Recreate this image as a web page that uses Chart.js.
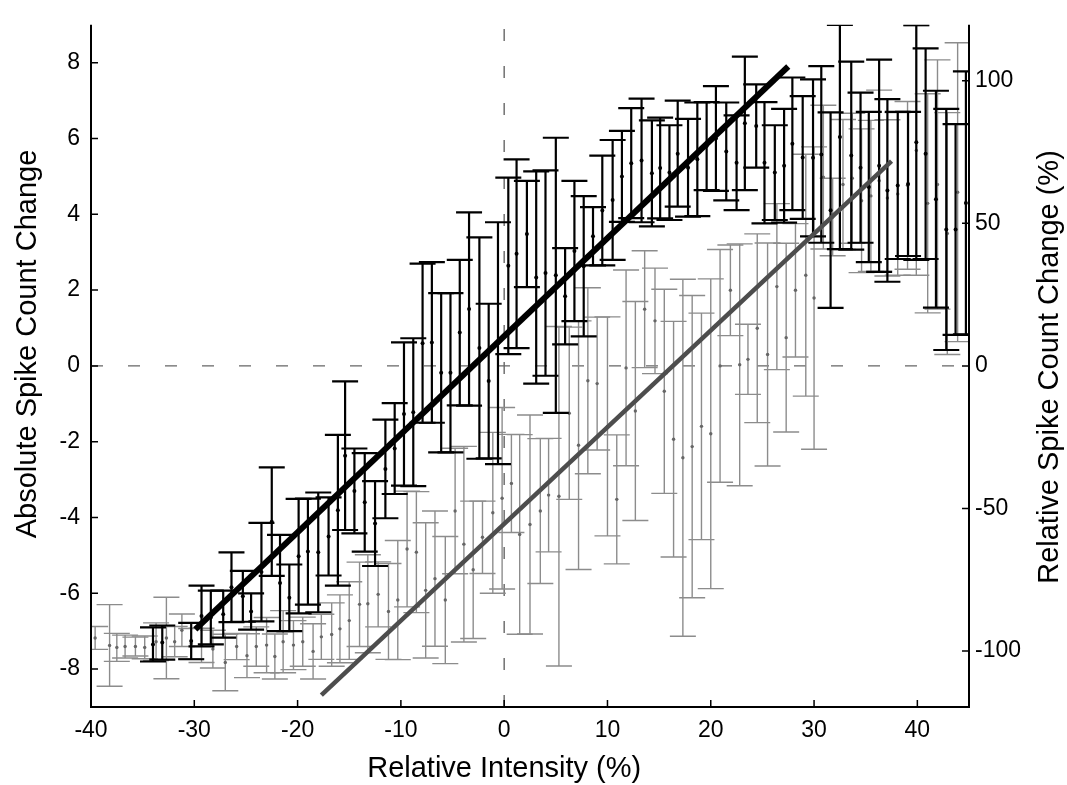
<!DOCTYPE html>
<html>
<head>
<meta charset="utf-8">
<script src="https://cdn.jsdelivr.net/npm/chart.js@4.4.0/dist/chart.umd.min.js"></script>
<style>
html,body{margin:0;padding:0;background:#fff;}
#wrap{width:1067px;height:785px;position:relative;}
</style>
</head>
<body>
<div id="wrap"><canvas id="c"></canvas></div>
<script>
// ---------- data ----------
const xTicks = [-40, -30, -20, -10, 0, 10, 20, 30, 40];
const leftTicks = [-8, -6, -4, -2, 0, 2, 4, 6, 8];
const rightTicks = [-100, -50, 0, 50, 100];
const xRange = [-40, 45];
const leftRange = [-9, 9];
const rightRange = [-119.6, 119.6];

const xTitle = 'Relative Intensity (%)';
const leftTitle = 'Absolute Spike Count Change';
const rightTitle = 'Relative Spike Count Change (%)';

// absolute spike count change (black, left axis): mean and error half-width
const absX = [-34.0, -33.1, -30.3, -29.3, -28.4, -27.2, -26.4, -25.3, -24.5, -23.5,
  -22.5, -21.7, -20.8, -19.9, -19.0, -18.0, -17.0, -16.1, -15.4, -14.5,
  -13.5, -12.5, -11.5, -10.6, -9.7, -8.8, -7.9, -7.0, -6.1, -5.2,
  -4.3, -3.4, -2.4, -1.5, -0.6, 0.4, 1.2, 2.2, 3.1, 4.0,
  5.0, 5.9, 6.8, 7.7, 8.6, 9.5, 10.5, 11.4, 12.3, 13.3,
  14.3, 15.1, 16.0, 16.8, 17.8, 18.7, 19.6, 20.5, 21.5, 22.5,
  23.3, 24.4, 25.2, 26.2, 27.1, 27.9, 28.9, 29.9, 30.7, 31.6,
  32.5, 33.6, 34.5, 35.3, 36.3, 37.1, 38.1, 39.1, 39.9, 40.8,
  41.8, 42.8, 43.7, 44.7];
const absMean = [-7.35, -7.3, -7.26, -6.6, -6.64, -6.55, -5.84, -6.08, -6.48, -5.44,
  -4.11, -5.73, -6.12, -5.02, -4.9, -4.92, -4.5, -3.81, -2.37, -3.3,
  -3.6, -4.16, -2.72, -2.18, -1.27, -1.22, 0.6, 0.62, -0.18, -0.18,
  0.88, 1.5, 0.47, -0.4, 0.6, 2.64, 2.96, 3.48, 2.33, 2.45,
  2.39, 1.84, 3.03, 2.63, 3.42, 4.1, 4.38, 5.0, 5.35, 5.42,
  5.08, 5.22, 5.1, 5.6, 5.23, 5.45, 5.8, 6.0, 5.66, 5.36,
  6.4, 6.33, 5.36, 5.1, 5.28, 5.86, 5.5, 5.49, 5.58, 4.11,
  6.04, 5.55, 5.23, 4.72, 5.28, 4.63, 4.76, 4.8, 5.9, 5.6,
  4.4, 3.6, 3.6, 4.3];
const absErr = [0.45, 0.45, 0.48, 0.8, 0.71, 0.62, 0.92, 0.67, 0.48, 1.3,
  1.43, 1.27, 0.88, 1.51, 1.4, 1.58, 1.03, 1.99, 1.96, 1.12,
  1.3, 1.12, 1.3, 1.2, 1.89, 1.95, 2.1, 2.12, 2.1, 2.1,
  1.92, 2.55, 2.92, 2.04, 3.19, 2.33, 2.49, 1.4, 2.8, 2.71,
  3.63, 1.27, 1.85, 1.85, 0.77, 1.45, 1.58, 1.2, 1.45, 1.63,
  1.4, 1.33, 1.25, 1.4, 1.29, 1.5, 1.16, 1.38, 1.29, 1.25,
  1.76, 1.1, 1.6, 1.25, 1.5, 1.75, 1.62, 2.07, 2.33, 2.58,
  2.96, 2.48, 1.98, 1.98, 2.8, 2.41, 1.94, 1.9, 3.1, 2.78,
  2.86, 3.18, 2.78, 3.47];

// relative spike count change (grey, right axis, %): mean and error half-width
const relX = [-39.6, -38.2, -37.5, -36.7, -35.7, -34.8, -33.7, -32.7, -31.9, -31.2,
  -30.3, -29.3, -28.2, -27.0, -25.9, -24.9, -24.0, -23.0, -22.2, -21.4,
  -20.4, -19.5, -18.5, -17.7, -16.7, -15.9, -15.0, -14.0, -13.2, -12.2,
  -11.2, -10.3, -9.4, -8.5, -7.6, -6.7, -5.7, -4.75, -3.9, -3.0,
  -2.1, -1.1, -0.2, 0.7, 1.5, 2.5, 3.5, 4.3, 5.3, 6.3,
  7.2, 8.1, 9.0, 10.0, 10.9, 11.8, 12.7, 13.6, 14.6, 15.5,
  16.4, 17.3, 18.2, 19.1, 20.0, 20.9, 21.9, 22.8, 23.6, 24.5,
  25.5, 26.4, 27.3, 28.2, 29.2, 30.0, 30.9, 31.8, 32.8, 33.7,
  34.6, 35.5, 36.3, 37.1, 38.1, 39.05, 39.9, 41.0, 41.95, 42.9,
  43.9];
const relMean = [-95.4, -98.0, -98.7, -98.4, -98.4, -98.7, -96.7, -95.4, -96.7, -92.7,
  -97.4, -98.0, -99.3, -104.0, -98.4, -101.6, -98.4, -97.9, -101.9, -96.7,
  -97.9, -96.7, -100.1, -95.0, -94.2, -92.2, -89.3, -83.6, -83.4, -80.1,
  -86.1, -82.1, -64.2, -65.3, -78.7, -74.6, -82.1, -50.9, -62.5, -71.5,
  -60.1, -51.5, -46.4, -41.2, -59.1, -55.6, -50.9, -45.3, -45.7, -16.6,
  -27.8, -5.2, -6.2, -21.2, -46.8, -0.7, -15.8, 19.9, 15.8, -8.9,
  -25.7, -32.2, -28.3, -21.2, -23.8, 0.0, 26.5, 0.4, 2.3, 13.2,
  4.0, 27.8, 9.9, 26.5, 31.8, 23.8, 66.2, 52.2, 63.6, 65.8,
  57.9, 59.6, 64.9, 58.9, 60.3, 63.3, 75.5, 57.0, 63.6, 46.4,
  60.9];
const relErr = [4.0, 14.3, 4.9, 4.0, 3.3, 4.0, 6.6, 14.3, 5.3, 5.7,
  5.3, 6.0, 6.6, 9.9, 4.6, 7.7, 6.9, 9.7, 7.9, 10.9,
  8.6, 8.6, 9.7, 7.9, 11.1, 11.9, 13.6, 14.8, 17.2, 11.4,
  16.8, 20.9, 20.3, 21.2, 23.7, 23.7, 22.3, 22.0, 34.3, 24.1,
  12.7, 28.2, 31.8, 17.2, 35.0, 38.4, 25.4, 19.9, 59.5, 30.2,
  43.6, 32.6, 23.3, 38.4, 22.6, 34.3, 38.4, 20.5, 18.5, 35.8,
  41.3, 62.6, 53.0, 39.7, 54.3, 40.8, 15.9, 42.4, 12.3, 33.1,
  39.1, 29.1, 33.1, 23.4, 42.4, 53.0, 25.2, 13.6, 22.8, 22.8,
  25.2, 26.5, 31.8, 27.4, 28.5, 29.4, 43.7, 38.4, 43.7, 42.4,
  52.4];

// regression lines
const absFitX = [-29.9, 27.5];
const absFitY = [-6.95, 7.9];
const relFitX = [-17.7, 37.5];
const relFitY = [-115.4, 71.8];

// ---------- chart ----------
const FONT = '"Liberation Sans", Arial, Helvetica, sans-serif';
const pts = (xs, ys) => xs.map((x, i) => ({x: x, y: ys[i]}));

const errorBarPlugin = {
  id: 'errorBars',
  beforeDatasetDraw(chart, args) {
    const ds = chart.data.datasets[args.index];
    if (!ds.errors) return;
    const ctx = chart.ctx, xs = chart.scales.x, ys = chart.scales[ds.yAxisID];
    const a = chart.chartArea;
    const cap = ds.capHalf;
    ctx.save();
    ctx.beginPath();
    ctx.rect(a.left, a.top, a.right - a.left, a.bottom - a.top);
    ctx.clip();
    ctx.strokeStyle = ds.errorColor;
    ctx.lineWidth = ds.errorWidth;
    ds.data.forEach((p, i) => {
      const e = ds.errors[i];
      const px = xs.getPixelForValue(p.x);
      const yt = ys.getPixelForValue(p.y + e);
      const yb = ys.getPixelForValue(p.y - e);
      ctx.beginPath();
      ctx.moveTo(px, yt); ctx.lineTo(px, yb);
      ctx.moveTo(px - cap, yt); ctx.lineTo(px + cap, yt);
      ctx.moveTo(px - cap, yb); ctx.lineTo(px + cap, yb);
      ctx.stroke();
    });
    ctx.restore();
  }
};

const axesPlugin = {
  id: 'axesFrame',
  afterDraw(chart) {
    const ctx = chart.ctx, a = chart.chartArea;
    const sx = chart.scales.x, sy = chart.scales.y, sy2 = chart.scales.y2;
    const tl = 7;
    ctx.save();
    ctx.strokeStyle = '#000';
    ctx.lineWidth = 2;
    ctx.beginPath();
    ctx.moveTo(a.left, a.top); ctx.lineTo(a.left, a.bottom); ctx.lineTo(a.right, a.bottom); ctx.lineTo(a.right, a.top);
    ctx.stroke();
    ctx.lineWidth = 1.5;
    ctx.beginPath();
    sx.ticks.forEach(t => { const p = sx.getPixelForValue(t.value); ctx.moveTo(p, a.bottom); ctx.lineTo(p, a.bottom - tl); });
    sy.ticks.forEach(t => { const p = sy.getPixelForValue(t.value); ctx.moveTo(a.left, p); ctx.lineTo(a.left + tl, p); });
    sy2.ticks.forEach(t => { const p = sy2.getPixelForValue(t.value); ctx.moveTo(a.right, p); ctx.lineTo(a.right - tl, p); });
    ctx.stroke();
    // axis titles
    ctx.fillStyle = '#000';
    ctx.font = '29px ' + FONT;
    ctx.textAlign = 'center';
    ctx.textBaseline = 'alphabetic';
    ctx.fillText(xTitle, sx.getPixelForValue(0), 777);
    ctx.save();
    ctx.translate(36, 344);
    ctx.rotate(-Math.PI / 2);
    ctx.fillText(leftTitle, 0, 0);
    ctx.restore();
    ctx.save();
    ctx.translate(1058, 367);
    ctx.rotate(-Math.PI / 2);
    ctx.fillText(rightTitle, 0, 0);
    ctx.restore();
    ctx.restore();
  }
};

const tickFont = {family: FONT, size: 23};

new Chart(document.getElementById('c'), {
  type: 'scatter',
  data: {
    datasets: [
      {
        type: 'line', label: 'absFit', yAxisID: 'y', order: 0,
        data: pts(absFitX, absFitY),
        borderColor: '#000', borderWidth: 6, pointRadius: 0, borderCapStyle: 'butt', fill: false
      },
      {
        type: 'line', label: 'relFit', yAxisID: 'y2', order: 0,
        data: pts(relFitX, relFitY),
        borderColor: '#4d4d4d', borderWidth: 4.5, pointRadius: 0, borderCapStyle: 'butt', fill: false
      },
      {
        label: 'absolute', yAxisID: 'y', order: 1,
        data: pts(absX, absMean), errors: absErr,
        errorColor: '#000', errorWidth: 2.2, capHalf: 13,
        pointRadius: 2, pointBackgroundColor: '#000', pointBorderWidth: 0
      },
      {
        label: 'relative', yAxisID: 'y2', order: 2,
        data: pts(relX, relMean), errors: relErr,
        errorColor: '#8c8c8c', errorWidth: 1.4, capHalf: 13,
        pointRadius: 1.7, pointBackgroundColor: '#666', pointBorderWidth: 0
      },
      {
        type: 'line', label: 'zeroH', yAxisID: 'y', order: 3,
        data: [{x: xRange[0], y: 0}, {x: xRange[1], y: 0}],
        borderColor: '#666', borderWidth: 1.4, borderDash: [12, 25], pointRadius: 0, fill: false
      },
      {
        type: 'line', label: 'zeroV', yAxisID: 'y', order: 3,
        data: [{x: 0, y: leftRange[0]}, {x: 0, y: leftRange[1]}],
        borderColor: '#666', borderWidth: 1.4, borderDash: [12, 25], pointRadius: 0, fill: false
      }
    ]
  },
  options: {
    responsive: true,
    maintainAspectRatio: false,
    animation: false,
    layout: {padding: {top: 11, left: 0, right: 0, bottom: 0}},
    plugins: {legend: {display: false}, tooltip: {enabled: false}},
    scales: {
      x: {
        type: 'linear', min: xRange[0], max: xRange[1],
        afterBuildTicks: s => { s.ticks = xTicks.map(v => ({value: v})); },
        afterFit: s => { s.height = 78; },
        grid: {display: false, drawTicks: false},
        border: {display: false},
        ticks: {font: tickFont, color: '#000', padding: 10, maxRotation: 0, autoSkip: false}
      },
      y: {
        type: 'linear', position: 'left', min: leftRange[0], max: leftRange[1],
        afterBuildTicks: s => { s.ticks = leftTicks.map(v => ({value: v})); },
        afterFit: s => { s.width = 91; },
        grid: {display: false, drawTicks: false},
        border: {display: false},
        ticks: {font: tickFont, color: '#000', padding: 11, autoSkip: false}
      },
      y2: {
        type: 'linear', position: 'right', min: rightRange[0], max: rightRange[1],
        afterBuildTicks: s => { s.ticks = rightTicks.map(v => ({value: v})); },
        afterFit: s => { s.width = 98; },
        grid: {display: false, drawTicks: false},
        border: {display: false},
        ticks: {font: tickFont, color: '#000', padding: 6, autoSkip: false}
      }
    }
  },
  plugins: [errorBarPlugin, axesPlugin]
});
</script>
</body>
</html>
